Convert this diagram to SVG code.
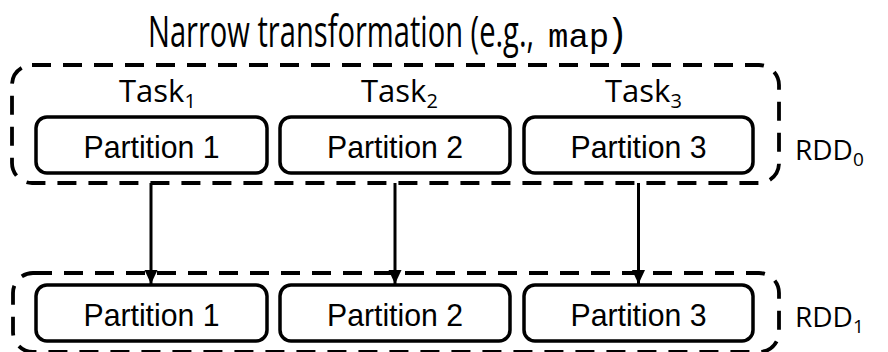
<svg xmlns="http://www.w3.org/2000/svg" width="888" height="352" viewBox="0 0 888 352">
  <style>
    .group { fill: none; stroke: #000; stroke-width: 3.8; stroke-dasharray: 19 12; }
    .part { fill: #fff; stroke: #000; stroke-width: 3.5; }
    .ptext { font-family: "Liberation Sans", Arial, sans-serif; font-size: 32px; fill: #000; text-anchor: middle; }
    .label { font-family: "Open Sans", "Noto Sans", sans-serif; fill: #000; }
    .mono { font-family: "Liberation Mono", "DejaVu Sans Mono", monospace; fill: #000; }
    .edge { stroke: #000; stroke-width: 3; fill: none; }
  </style>
  <defs>
    <marker id="arrow" markerWidth="13" markerHeight="14" refX="14" refY="6.5" orient="auto" markerUnits="userSpaceOnUse">
      <path d="M0,0 L14,6.5 L0,13 Z" fill="#000"/>
    </marker>
  </defs>

  <!-- title: condensed sans part, then monospace "map" -->
  <g id="title">
    <text class="label" transform="translate(148,47) scale(0.66,1)" x="0" y="0" font-size="44" textLength="585" lengthAdjust="spacingAndGlyphs">Narrow transformation (e.g.,</text>
    <text x="548" y="47"><tspan class="mono" font-size="34">map</tspan><tspan class="label" font-size="42" dx="2">)</tspan></text>
  </g>

  <!-- RDD0 -->
  <g id="rdd0">
    <rect class="group" x="12" y="65" width="767" height="118" rx="20" ry="20"/>
    <text class="label" x="795" y="160" font-size="28">RDD<tspan font-size="19" dy="6">0</tspan></text>
  </g>
  <g id="task1"><text class="label" x="119" y="102" font-size="31">Task<tspan font-size="20" dy="6">1</tspan></text></g>
  <g id="task2"><text class="label" x="361" y="102" font-size="31">Task<tspan font-size="20" dy="6">2</tspan></text></g>
  <g id="task3"><text class="label" x="605" y="102" font-size="31">Task<tspan font-size="20" dy="6">3</tspan></text></g>
  <g id="p0-1"><rect class="part" x="36" y="117" width="231" height="56" rx="11"/><text class="ptext" x="151.5" y="158" textLength="136" lengthAdjust="spacingAndGlyphs">Partition 1</text></g>
  <g id="p0-2"><rect class="part" x="280" y="117" width="230" height="56" rx="11"/><text class="ptext" x="395" y="158" textLength="136" lengthAdjust="spacingAndGlyphs">Partition 2</text></g>
  <g id="p0-3"><rect class="part" x="524" y="117" width="229" height="56" rx="11"/><text class="ptext" x="638.5" y="158" textLength="136" lengthAdjust="spacingAndGlyphs">Partition 3</text></g>

  <!-- RDD1 -->
  <g id="rdd1">
    <rect class="group" x="13" y="273" width="766" height="79" rx="20" ry="20"/>
    <text class="label" x="795" y="327" font-size="28">RDD<tspan font-size="19" dy="6">1</tspan></text>
  </g>
  <g id="p1-1"><rect class="part" x="36" y="285" width="231" height="56" rx="11"/><text class="ptext" x="151.5" y="326" textLength="136" lengthAdjust="spacingAndGlyphs">Partition 1</text></g>
  <g id="p1-2"><rect class="part" x="280" y="285" width="230" height="56" rx="11"/><text class="ptext" x="395" y="326" textLength="136" lengthAdjust="spacingAndGlyphs">Partition 2</text></g>
  <g id="p1-3"><rect class="part" x="524" y="285" width="229" height="56" rx="11"/><text class="ptext" x="638.5" y="326" textLength="136" lengthAdjust="spacingAndGlyphs">Partition 3</text></g>

  <!-- connectors -->
  <g id="edges">
    <line class="edge" x1="151" y1="183" x2="151" y2="284" marker-end="url(#arrow)"/>
    <line class="edge" x1="395" y1="183" x2="395" y2="284" marker-end="url(#arrow)"/>
    <line class="edge" x1="638.5" y1="183" x2="638.5" y2="284" marker-end="url(#arrow)"/>
  </g>
</svg>
